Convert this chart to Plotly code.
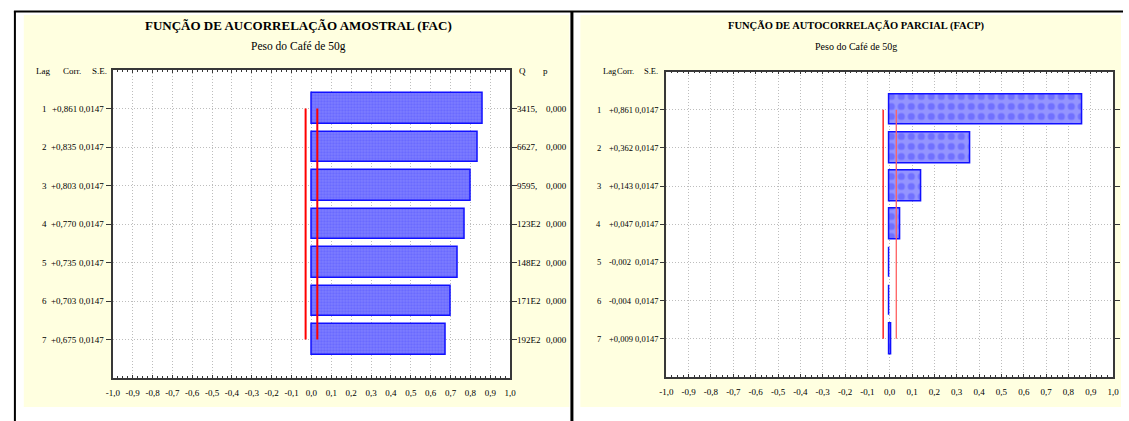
import plotly.graph_objects as go

# ---- data -------------------------------------------------------------
lags = [1, 2, 3, 4, 5, 6, 7]
fac = [0.861, 0.835, 0.803, 0.770, 0.735, 0.703, 0.675]
facp = [0.861, 0.362, 0.143, 0.047, -0.002, -0.004, 0.009]
se = [0.0147, 0.0147, 0.0147, 0.0147, 0.0147, 0.0147, 0.0147]
q_stat = ["3415,", "6627,", "9595,", "123E2", "148E2", "171E2", "192E2"]
p_val = ["0,000", "0,000", "0,000", "0,000", "0,000", "0,000", "0,000"]
x_ticks = [round(-1 + 0.1 * i, 1) for i in range(21)]
x_ticktext = [f"{v:.1f}".replace(".", ",") for v in x_ticks]

title_fac = "FUNÇÃO DE AUCORRELAÇÃO AMOSTRAL (FAC)"
title_facp = "FUNÇÃO DE AUTOCORRELAÇÃO PARCIAL (FACP)"
subtitle = "Peso do Café de 50g"

W, H = 1129, 421
FONT = "Liberation Serif"

# plot-area boxes in pixels: (left, right, top, bottom)
BOX_L = (107, 509, 70, 378)
BOX_R = (667, 1119, 71.5, 377)


def fx(x):
    return x / W


def fy(y):
    return 1 - y / H


def fmt_corr(v):
    return f"{v:+.3f}".replace(".", ",")


def fmt_se(v):
    return f"{v:.4f}".replace(".", ",")


fig = go.Figure()

# bars
fig.add_trace(go.Bar(
    y=lags, x=fac, orientation="h", width=0.8, xaxis="x", yaxis="y",
    marker=dict(color="#7d7dff", line=dict(color="#1010ff", width=1.5),
                pattern=dict(shape=".", fgcolor="#5454ff", size=3,
                             solidity=0.45, fillmode="overlay")),
    showlegend=False, hoverinfo="skip"))
fig.add_trace(go.Bar(
    y=lags, x=facp, orientation="h", width=0.8, xaxis="x2", yaxis="y2",
    marker=dict(color="#9494ff", line=dict(color="#1010ff", width=1.5),
                pattern=dict(shape=".", fgcolor="#4c4cff", size=10,
                             solidity=0.4, fillmode="overlay")),
    showlegend=False, hoverinfo="skip"))

# confidence limits (+/- 2 S.E.)
for xa, ya, lw, cols in [("x", "y", 2, ("#ff0000", "#ff0000")),
                         ("x2", "y2", 1.3, ("#ff0000", "#ff6060"))]:
    for sgn, col in zip((-1, 1), cols):
        fig.add_trace(go.Scatter(
            x=[sgn * 2 * s for s in (se[0], se[-1])], y=[lags[0], lags[-1]],
            mode="lines", line=dict(color=col, width=lw),
            xaxis=xa, yaxis=ya, showlegend=False, hoverinfo="skip"))

axis_common = dict(
    showline=True, linecolor="#383838", linewidth=1.5, mirror="allticks",
    showgrid=True, gridcolor="#bdbdbd", griddash="1px,2px", gridwidth=1,
    zeroline=False, fixedrange=True,
)

xaxis_common = dict(
    axis_common, range=[-1, 1], tickvals=x_ticks, ticktext=x_ticktext,
    ticks="inside", ticklen=3, tickcolor="#383838",
    minor=dict(dtick=0.025, tick0=-1, ticks="inside", ticklen=2,
               tickcolor="#383838", showgrid=False),
    tickfont=dict(family=FONT, size=9, color="#000"), ticklabelstandoff=5,
)
yaxis_common = dict(
    axis_common, range=[8, 0], tickvals=lags, showticklabels=False,
    ticks="outside", ticklen=5, tickcolor="#383838",
)

fig.update_layout(
    width=W, height=H, margin=dict(l=0, r=0, t=0, b=0),
    paper_bgcolor="#ffffff", plot_bgcolor="#ffffff", bargap=0,
    xaxis=dict(xaxis_common, domain=[fx(BOX_L[0]), fx(BOX_L[1])], anchor="y"),
    yaxis=dict(yaxis_common, domain=[fy(BOX_L[3]), fy(BOX_L[2])], anchor="x"),
    xaxis2=dict(xaxis_common, domain=[fx(BOX_R[0]), fx(BOX_R[1])], anchor="y2"),
    yaxis2=dict(yaxis_common, domain=[fy(BOX_R[3]), fy(BOX_R[2])], anchor="x2"),
)

# panel backgrounds, white plot areas and frame
shapes = [
    dict(type="rect", xref="paper", yref="paper", x0=fx(17), x1=fx(569),
         y0=fy(407), y1=fy(15), fillcolor="#ffffe0", line=dict(width=0),
         layer="below"),
    dict(type="rect", xref="paper", yref="paper", x0=fx(580), x1=fx(1127),
         y0=fy(407), y1=fy(15), fillcolor="#ffffe0", line=dict(width=0),
         layer="below"),
]
for l, r, t, b in (BOX_L, BOX_R):
    shapes.append(dict(type="rect", xref="paper", yref="paper",
                       x0=fx(l), x1=fx(r), y0=fy(b), y1=fy(t),
                       fillcolor="#ffffff", line=dict(width=0),
                       layer="below"))
shapes += [
    dict(type="line", xref="paper", yref="paper", x0=fx(7), x1=1,
         y0=fy(11.5), y1=fy(11.5), line=dict(color="#000", width=2)),
    dict(type="line", xref="paper", yref="paper", x0=fx(8), x1=fx(8),
         y0=fy(11), y1=0, line=dict(color="#000", width=2)),
    dict(type="line", xref="paper", yref="paper", x0=fx(571.5), x1=fx(571.5),
         y0=fy(11), y1=0, line=dict(color="#000", width=3)),
]
fig.update_layout(shapes=shapes)

ann = []


def text(x, y, s, size=9, anchor="center", bold=False):
    ann.append(dict(
        x=fx(x), y=fy(y), xref="paper", yref="paper", text=s,
        showarrow=False, xanchor=anchor, yanchor="middle",
        font=dict(family=FONT, size=size, color="#000",
                  weight="bold" if bold else "normal")))


# titles
text(295, 26, title_fac, size=13, bold=True)
text(295, 46, subtitle, size=11.5)
text(859, 26, title_facp, size=10.5, bold=True)
text(859, 46, subtitle, size=10)

# left panel: row labels and statistics columns
text(36, 71, "Lag")
text(66, 71, "Corr.")
text(94, 71, "S.E.")
text(521, 71, "Q")
text(545, 71, "p")
for lag, c, s, q, p in zip(lags, fac, se, q_stat, p_val):
    y = BOX_L[2] + (BOX_L[3] - BOX_L[2]) * lag / 8
    text(42, y, str(lag), anchor="right")
    text(73, y, fmt_corr(c), anchor="right")
    text(100, y, fmt_se(s), anchor="right")
    text(514, y, q, anchor="left")
    text(543, y, p, anchor="left")

# right panel: row labels
text(601, 71, "Lag", size=8.5, anchor="left")
text(615, 71, "Corr.", size=8.5, anchor="left")
text(652, 71, "S.E.", size=8.5)
for lag, c, s in zip(lags, facp, se):
    y = BOX_R[2] + (BOX_R[3] - BOX_R[2]) * lag / 8
    text(603, y, str(lag), size=8.5, anchor="right")
    text(607, y, fmt_corr(c), size=8.5, anchor="left")
    text(661, y, fmt_se(s), size=8.5, anchor="right")

fig.update_layout(annotations=ann)

fig.write_html("out.html")
